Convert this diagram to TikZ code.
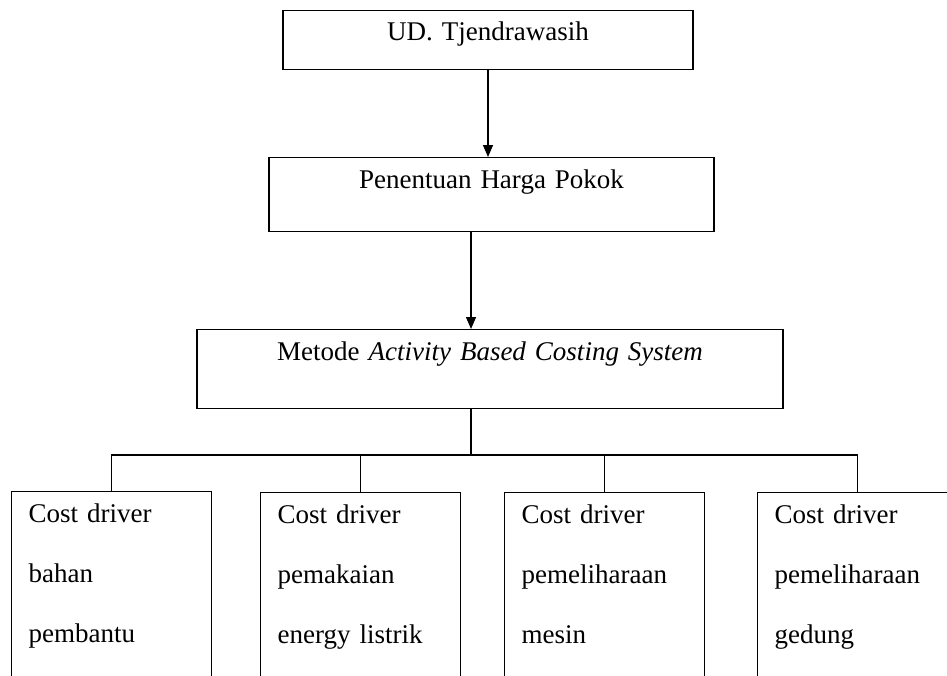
\documentclass[tikz,border=0pt]{standalone}
\usepackage{fontspec}
\setmainfont{Liberation Serif}
\usetikzlibrary{arrows.meta}

\tikzset{
  box/.style={draw, line width=1.3pt, inner xsep=8pt, inner ysep=0pt,
    text height=31pt, align=center, font=\fontsize{27}{32}\selectfont},
  driver/.style={draw, line width=1.3pt, anchor=north west, inner xsep=17pt,
    inner ysep=0pt, text width=166pt, text height=31pt, text depth=230pt,
    align=left, font=\fontsize{27}{60}\selectfont},
  link/.style={line width=1.3pt},
  arrow/.style={link, -{Triangle[length=12pt,width=10pt]}}
}

\begin{document}
\begin{tikzpicture}[x=1pt,y=-1pt]
\useasboundingbox (0,0) rectangle (947,675);
\clip (0,0) rectangle (947,675);

% top chain
\node[box, anchor=north, text width=394pt, text height=30pt, text depth=29pt]
  (ud) at (488,10) {UD. Tjendrawasih};
\node[box, anchor=north, text width=429pt, text depth=43pt]
  (hpp) at (491.5,157) {Penentuan Harga Pokok};
\node[box, anchor=north, text width=570pt, text depth=48pt]
  (abc) at (490,329) {Metode \textit{Activity Based Costing System}};

\coordinate (stem) at (471,0);
\coordinate (bus) at (471,455);
\draw[arrow] (ud.south) -- (hpp.north -| ud.south);
\draw[arrow] (hpp.south -| stem) -- (abc.north -| stem);

% cost drivers
\node[driver] (cd1) at (11,491)  {Cost driver\\bahan\\pembantu};
\node[driver] (cd2) at (260,492) {Cost driver\\pemakaian\\energy listrik};
\node[driver] (cd3) at (504,492) {Cost driver\\pemeliharaan\\mesin};
\node[driver] (cd4) at (757,492) {Cost driver\\pemeliharaan\\gedung};

\draw[link] (abc.south -| stem) -- (bus);
\draw[link] (cd1.north) |- (bus) -| (cd4.north);
\draw[link] (cd2.north) -- (cd2.north |- bus);
\draw[link] (cd3.north) -- (cd3.north |- bus);
\end{tikzpicture}
\end{document}
